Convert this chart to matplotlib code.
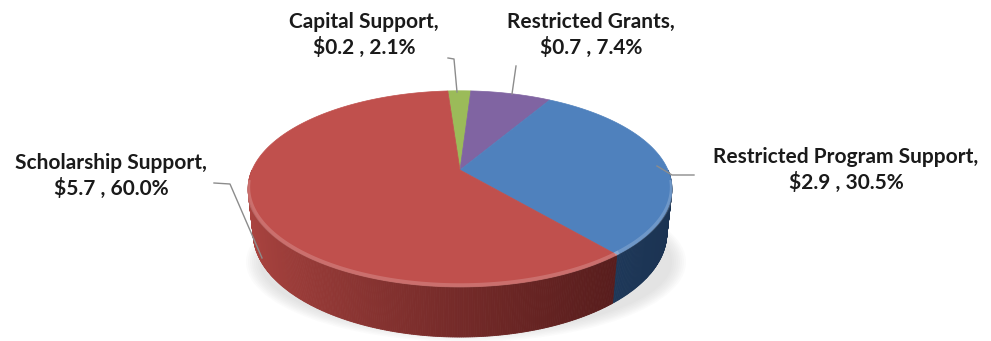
"""3D-style pie of support categories (perspective view)."""

import numpy as np
import matplotlib.pyplot as plt
from matplotlib.colors import to_rgb
from matplotlib.patches import Polygon, Ellipse

labels = ['Capital Support', 'Restricted Grants', 'Restricted Program Support', 'Scholarship Support']
amounts = ['$0.2', '$0.7', '$2.9', '$5.7']
shares = [2.1, 7.4, 30.5, 60.0]
top_colors = ['#9BBB59', '#8064A2', '#4F81BD', '#C0504D']
side_light = ['#86a24a', '#6e5690', '#35608f', '#ad4541']
side_dark = ['#4f6229', '#3f2f56', '#1b3352', '#4e1818']

# camera / projection, in pixels
cx0, cy0 = 460, 170
S = 965
alpha = np.radians(27)
D = 4.64
h = 0.24
start = 94.0


def proj(X, Y, Z):
    w = D + Y * np.cos(alpha) - Z * np.sin(alpha)
    xs = X / w
    ys = (Y * np.sin(alpha) + Z * np.cos(alpha)) / w
    return cx0 + S * xs, cy0 - S * ys


def rim(t, Z=0.0):
    r = np.radians(t)
    return proj(np.cos(r), np.sin(r), Z)


fig = plt.figure(figsize=(9.91, 3.41), dpi=100)
ax = fig.add_axes([0, 0, 1, 1])
ax.set_xlim(0, 991)
ax.set_ylim(341, 0)
ax.axis('off')

# soft shadow under the pie
for k in range(8):
    ax.add_patch(Ellipse((cx0 + 6, 262), 440 - 4 * k, 160 - 3 * k,
                         color='#9a9a9a', alpha=0.035, lw=0, zorder=1))

# slice angle ranges, clockwise from start
ranges = []
t0 = start
for s in shares:
    t1 = t0 - s * 3.6
    ranges.append((t0, t1))
    t0 = t1

# side wall quads for the front half, drawn far to near
quads = []
for i, (ta, tb) in enumerate(ranges):
    for shift in (0, 360):
        hi, lo = min(ta + shift, 0), max(tb + shift, -180)
        if hi <= lo:
            continue
        ts = np.linspace(hi, lo, max(int((hi - lo) * 2), 2))
        for j in range(len(ts) - 1):
            quads.append((i, ts[j], ts[j + 1]))
quads.sort(key=lambda q: -np.sin(np.radians((q[1] + q[2]) / 2)))
for i, ta, tb in quads:
    tm = np.radians((ta + tb) / 2)
    w = ((1 - np.cos(tm)) / 2) ** 1.3
    col = np.array(to_rgb(side_dark[i])) * (1 - w) + np.array(to_rgb(side_light[i])) * w
    poly = [rim(ta), rim(tb), rim(tb, -h), rim(ta, -h)]
    ax.add_patch(Polygon(poly, closed=True, fc=col, ec=col, lw=0.6, zorder=2))

# top faces
apex = proj(0, 0, 0)
for i, (ta, tb) in enumerate(ranges):
    ts = np.linspace(ta, tb, 200)
    pts = [apex] + [rim(t) for t in ts]
    ax.add_patch(Polygon(pts, closed=True, fc=top_colors[i], ec=top_colors[i], lw=0.5, zorder=3))

# bevel highlight on the front edge
for i, (ta, tb) in enumerate(ranges):
    for shift in (0, 360):
        hi, lo = min(ta + shift, -8), max(tb + shift, -172)
        if hi <= lo:
            continue
        ts = np.linspace(hi, lo, 100)
        xs, ys = zip(*[rim(t) for t in ts])
        ax.plot(xs, np.array(ys) - 1.5, color='white', alpha=0.18, lw=3, zorder=4)

# labels and leader lines
text_pos = [(364, 35), (591, 35), (846, 170), (111, 176)]
leaders = [
    [(457, 92), (454, 59), (448, 58)],
    [(512, 94), (516, 66)],
    [(657, 166), (672, 175), (694, 175)],
    [(262, 258), (230, 184), (214, 183)],
]
for i in range(len(labels)):
    x, y = text_pos[i]
    ax.text(x, y, f'{labels[i]},\n{amounts[i]} , {shares[i]:.1f}%', ha='center', va='center',
            fontsize=15, fontweight='bold', family=['Lato', 'DejaVu Sans'],
            linespacing=1.25, color='#1a1a1a', zorder=6)
    xs, ys = zip(*leaders[i])
    ax.plot(xs, ys, color='#8c8c8c', lw=1, zorder=5)

fig.savefig('out.png', dpi=100)
